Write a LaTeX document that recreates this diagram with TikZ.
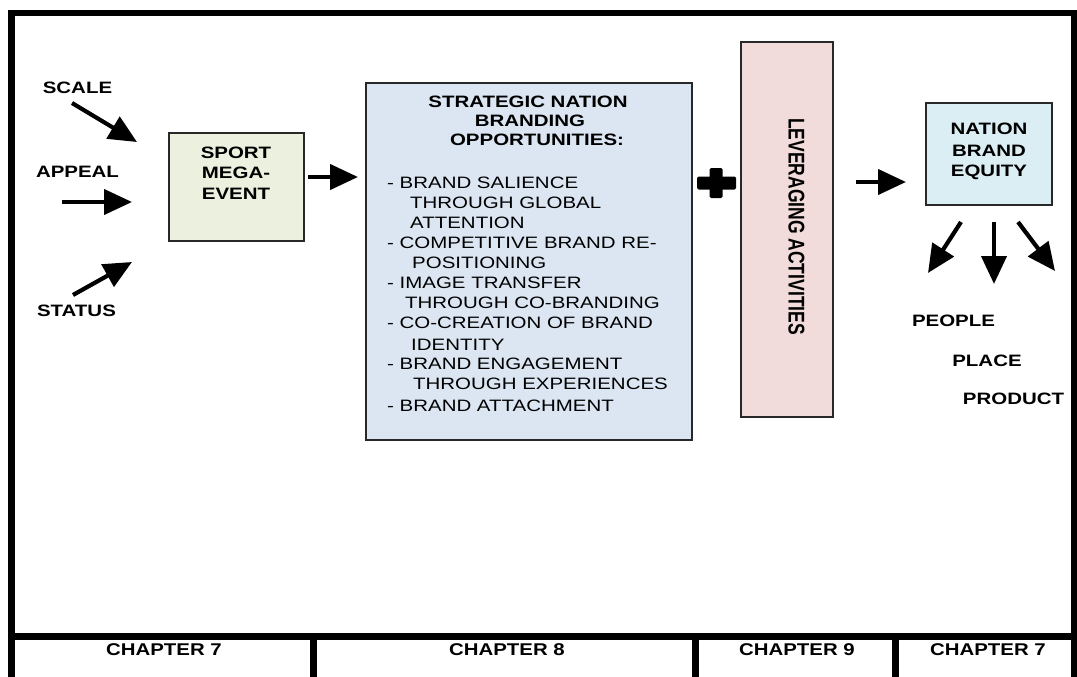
\documentclass[tikz,border=0pt]{standalone}
\usepackage{fontspec}
\usepackage{graphicx}
\setmainfont{Liberation Sans}[FakeStretch=1.24]
\newfontfamily\levfont{Liberation Sans}
\newfontfamily\chapfont{Liberation Sans}[FakeStretch=1.2]
\usetikzlibrary{arrows.meta}
\definecolor{sportfill}{RGB}{235,241,222}
\definecolor{stratfill}{RGB}{220,230,242}
\definecolor{levfill}{RGB}{242,220,219}
\definecolor{equityfill}{RGB}{219,238,244}
\definecolor{boxline}{RGB}{40,40,40}
\tikzset{
  lbl/.style={font=\fontsize{16.5}{19}\selectfont\bfseries, inner sep=0pt, anchor=base},
  item/.style={font=\fontsize{16.5}{19}\selectfont, inner sep=0pt, anchor=base west},
  boxstyle/.style={draw=boxline, line width=1.6pt, inner sep=0pt},
  bigarrow/.style={line width=4.2pt, -{Triangle[length=28pt,width=25pt]}},
  framerule/.style={line width=6.5pt},
  chap/.style={font=\chapfont\fontsize{17}{19}\selectfont\bfseries, inner sep=0pt, anchor=base}
}
\begin{document}
\begin{tikzpicture}[x=1pt,y=-1pt]
\useasboundingbox (0,0) rectangle (1077,677);
% frame
\draw[framerule] (11.5,677) -- (11.5,13) -- (1074.5,13) -- (1074.5,677);
\draw[framerule] (8,636.5) -- (1077,636.5);
\draw[framerule] (313.5,636.5) -- (313.5,677);
\draw[framerule] (695.5,636.5) -- (695.5,677);
\draw[framerule] (895.5,636.5) -- (895.5,677);
% chapter labels
\node[chap] (ch1) at (164,655.7) {CHAPTER 7};
\node[chap] (ch2) at (507,655.7) {CHAPTER 8};
\node[chap] (ch3) at (797,655.7) {CHAPTER 9};
\node[chap] (ch4) at (988,655.7) {CHAPTER 7};
% boxes
\node[boxstyle, fill=sportfill, minimum width=135pt, minimum height=108pt] (sport) at (236.5,187) {};
\node[boxstyle, fill=stratfill, minimum width=326pt, minimum height=357pt] (strat) at (529,261.5) {};
\node[boxstyle, fill=levfill, minimum width=92pt, minimum height=375pt] (lev) at (787,229.5) {};
\node[boxstyle, fill=equityfill, minimum width=126pt, minimum height=102pt] (equity) at (989,154) {};
% input labels
\node[lbl] (scale) at (77.5,93) {SCALE};
\node[lbl] (appeal) at (77.5,177) {APPEAL};
\node[lbl] (status) at (76.5,316) {STATUS};
% sport text
\node[lbl] (sp1) at (236,158) {SPORT};
\node[lbl] (sp2) at (236,178) {MEGA-};
\node[lbl] (sp3) at (236,199) {EVENT};
% strategic title
\node[lbl] (st1) at (528,107) {STRATEGIC NATION};
\node[lbl] (st2) at (530,126) {BRANDING};
\node[lbl] (st3) at (537,146) {OPPORTUNITIES:};
% bullets
\node[item] (b1) at (387,188) {- BRAND SALIENCE};
\node[item] (b2) at (410,208) {THROUGH GLOBAL};
\node[item] (b3) at (410,228) {ATTENTION};
\node[item] (b4) at (387,248) {- COMPETITIVE BRAND RE-};
\node[item] (b5) at (412,268) {POSITIONING};
\node[item] (b6) at (387,288) {- IMAGE TRANSFER};
\node[item] (b7) at (405,308) {THROUGH CO-BRANDING};
\node[item] (b8) at (387,328) {- CO-CREATION OF BRAND};
\node[item] (b9) at (411,350) {IDENTITY};
\node[item] (b10) at (387,369) {- BRAND ENGAGEMENT};
\node[item] (b11) at (413,389) {THROUGH EXPERIENCES};
\node[item] (b12) at (387,411) {- BRAND ATTACHMENT};
% leveraging text
\node[inner sep=0pt, rotate=-90, font=\levfont\fontsize{17.5}{20}\selectfont\bfseries] (levtext) at (796.5,226.5) {\scalebox{1}[1.3]{LEVERAGING ACTIVITIES}};
% plus sign
\fill[rounded corners=1.5pt] (697,176.5) rectangle (736,189.5);
\fill[rounded corners=1.5pt] (709.5,168) rectangle (722.5,198);
% equity text
\node[lbl] (eq1) at (989,135) {NATION};
\node[lbl] (eq2) at (989,156) {BRAND};
\node[lbl] (eq3) at (989,176) {EQUITY};
% outputs
\node[lbl] (people) at (953.5,326) {PEOPLE};
\node[lbl] (place) at (987,366) {PLACE};
\node[lbl] (product) at (1013.5,404) {PRODUCT};
% arrow coordinates
\coordinate (a1s) at (72,103);   \coordinate (a1e) at (137,142);
\coordinate (a2s) at (62,202);   \coordinate (a2e) at (132,202);
\coordinate (a3s) at (73,295);   \coordinate (a3e) at (132,262);
\coordinate (a4s) at (308,177);  \coordinate (a4e) at (358,177);
\coordinate (a5s) at (856,182);  \coordinate (a5e) at (906,182);
\coordinate (d1s) at (961,222);  \coordinate (d1e) at (928,273);
\coordinate (d2s) at (994,222);  \coordinate (d2e) at (994,284);
\coordinate (d3s) at (1018,222); \coordinate (d3e) at (1055,271);
\draw[bigarrow] (a1s) -- (a1e);
\draw[bigarrow] (a2s) -- (a2e);
\draw[bigarrow] (a3s) -- (a3e);
\draw[bigarrow] (a4s) -- (a4e);
\draw[bigarrow] (a5s) -- (a5e);
\draw[bigarrow] (d1s) -- (d1e);
\draw[bigarrow] (d2s) -- (d2e);
\draw[bigarrow] (d3s) -- (d3e);
\end{tikzpicture}
\end{document}
